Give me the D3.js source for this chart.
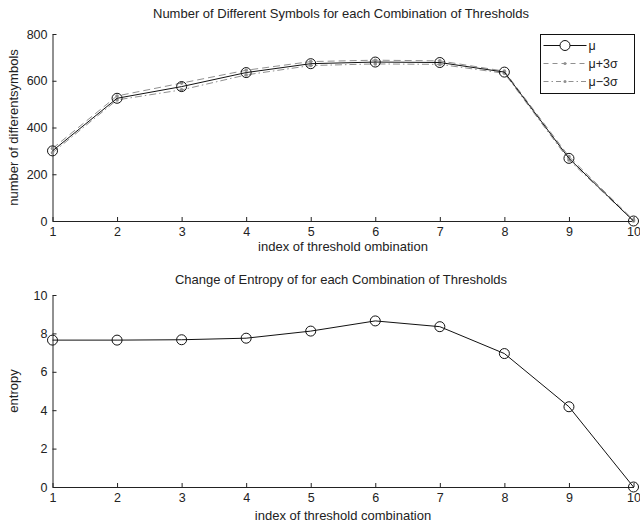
<!DOCTYPE html>
<html>
<head>
<meta charset="utf-8">
<script src="https://cdn.jsdelivr.net/npm/d3@7"></script>
<style>
body { margin: 0; background: #fff; }
svg text { font-family: "Liberation Sans", Arial, sans-serif; fill: #222; }
.axis path, .axis line { stroke: #222; }
</style>
</head>
<body>
<svg width="640" height="525"></svg>
<script>
var svg = d3.select("svg");

// threshold combination index
var idx = [1, 2, 3, 4, 5, 6, 7, 8, 9, 10];
// number of different symbols
var symMu    = [300, 525, 575, 635, 673, 680, 678, 637, 268, 0];
var symPlus  = [310, 535, 590, 645, 682, 688, 685, 641, 276, 4];
var symMinus = [292, 518, 561, 625, 665, 672, 670, 632, 261, 0];
// entropy
var entropy = [7.65, 7.65, 7.67, 7.75, 8.12, 8.65, 8.35, 6.95, 4.18, 0];

var symTicks = [0, 200, 400, 600, 800];
var entTicks = [0, 2, 4, 6, 8, 10];

function panel(top, bottom, ymax, ticks, title, titleY, xlab, xlabY, ylab) {
    var g = svg.append("g");
    var x = d3.scaleLinear().domain([1, 10]).range([52.5, 633.5]);
    var y = d3.scaleLinear().domain([0, ymax]).range([bottom, top]);

    g.append("g")
        .attr("class", "axis")
        .attr("transform", "translate(0," + bottom + ")")
        .call(d3.axisBottom(x).tickValues(idx).tickSize(-4).tickSizeOuter(0).tickPadding(6))
        .selectAll("text").style("font-size", "12.5px");
    g.append("g")
        .attr("class", "axis")
        .attr("transform", "translate(52.5,0)")
        .call(d3.axisLeft(y).tickValues(ticks).tickSize(-4).tickSizeOuter(0).tickPadding(5))
        .selectAll("text").style("font-size", "12.5px");
    g.selectAll(".axis .domain").attr("stroke-width", 1);

    g.append("text")
        .attr("x", 341).attr("y", titleY)
        .attr("text-anchor", "middle")
        .style("font-size", "13px")
        .text(title);
    g.append("text")
        .attr("x", 343).attr("y", xlabY)
        .attr("text-anchor", "middle")
        .style("font-size", "13px")
        .text(xlab);
    g.append("text")
        .attr("transform", "translate(18," + ((top + bottom) / 2) + ") rotate(-90)")
        .attr("text-anchor", "middle")
        .style("font-size", "13px")
        .text(ylab);
    return { g: g, x: x, y: y };
}

function series(p, vals, dash, color, width) {
    var line = d3.line()
        .x(function(d, i) { return p.x(idx[i]); })
        .y(function(d) { return p.y(d); });
    p.g.append("path")
        .datum(vals)
        .attr("d", line)
        .attr("fill", "none")
        .attr("stroke", color)
        .attr("stroke-width", width)
        .attr("stroke-dasharray", dash);
}

function circles(p, vals) {
    p.g.selectAll(null)
        .data(vals)
        .enter().append("circle")
        .attr("cx", function(d, i) { return p.x(idx[i]); })
        .attr("cy", function(d) { return p.y(d); })
        .attr("r", 5)
        .attr("fill", "none")
        .attr("stroke", "#111")
        .attr("stroke-width", 1);
}

function dots(p, vals, color) {
    p.g.selectAll(null)
        .data(vals)
        .enter().append("circle")
        .attr("cx", function(d, i) { return p.x(idx[i]); })
        .attr("cy", function(d) { return p.y(d); })
        .attr("r", 1.8)
        .attr("fill", color);
}

// top panel
var p1 = panel(34, 221, 800, symTicks,
    "Number of Different Symbols for each Combination of Thresholds", 18,
    "index of threshold ombination", 251, "number of differentsymbols");
series(p1, symPlus, "7,4", "#909090", 1);
series(p1, symMinus, "7,3,1.5,3", "#909090", 1);
dots(p1, symPlus, "#909090");
dots(p1, symMinus, "#909090");
series(p1, symMu, null, "#111", 1);
circles(p1, symMu);

// legend
var lg = p1.g.append("g").attr("transform", "translate(540.5,34.5)");
lg.append("rect").attr("width", 94).attr("height", 59)
    .attr("fill", "#fff").attr("stroke", "#111");
var legRows = [
    { label: "\u03bc", dash: null, color: "#111", mark: "circle" },
    { label: "\u03bc+3\u03c3", dash: "5,4", color: "#909090", mark: "dot" },
    { label: "\u03bc\u22123\u03c3", dash: "5,3,1.5,3", color: "#909090", mark: "dot" }
];
legRows.forEach(function(r, i) {
    var yy = 11 + i * 18;
    lg.append("line").attr("x1", 3).attr("x2", 46).attr("y1", yy).attr("y2", yy)
        .attr("stroke", r.color).attr("stroke-dasharray", r.dash);
    if (r.mark == "circle")
        lg.append("circle").attr("cx", 24.5).attr("cy", yy).attr("r", 5)
            .attr("fill", "#fff").attr("stroke", "#111");
    else
        lg.append("circle").attr("cx", 24.5).attr("cy", yy).attr("r", 1.5).attr("fill", r.color);
    lg.append("text").attr("x", 48).attr("y", yy + 4.5)
        .style("font-size", "12.5px").text(r.label);
});

// bottom panel
var p2 = panel(295, 487, 10, entTicks,
    "Change of Entropy of for each Combination of Thresholds", 284,
    "index of threshold combination", 520, "entropy");
series(p2, entropy, null, "#111", 1);
circles(p2, entropy);
</script>
</body>
</html>
